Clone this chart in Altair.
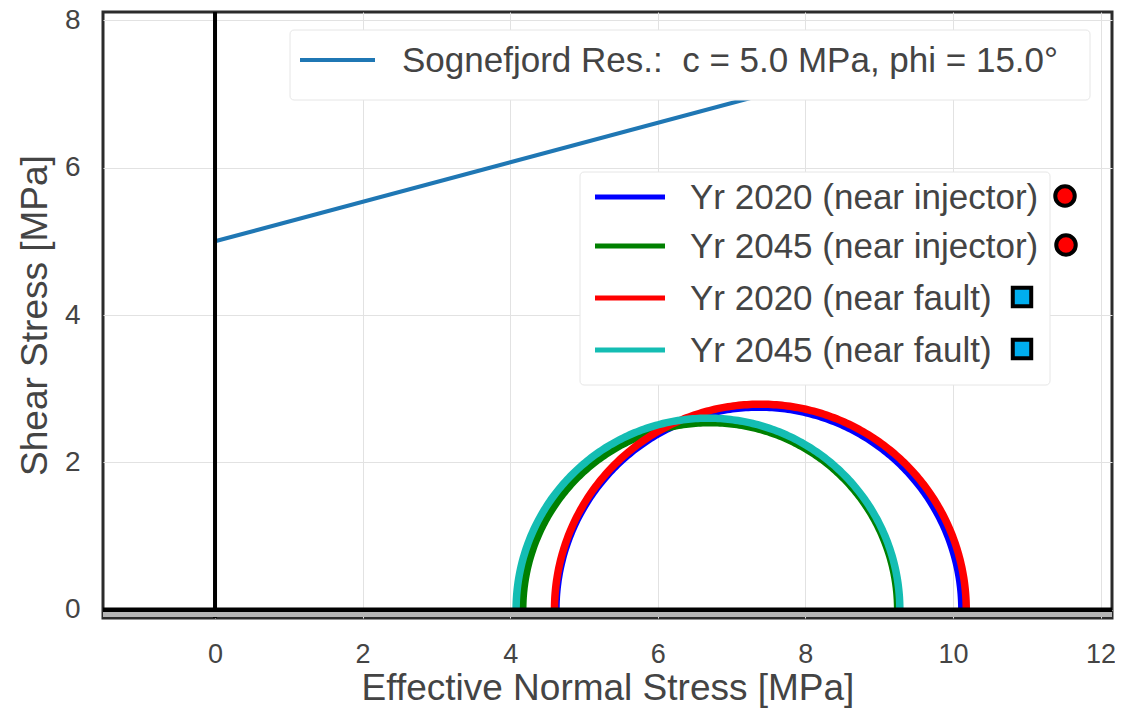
import altair as alt
import numpy as np
import pandas as pd

# ---- data ----
series = ["Yr 2020 (near injector)", "Yr 2045 (near injector)",
          "Yr 2020 (near fault)", "Yr 2045 (near fault)"]
sigma3 = [4.62, 4.17, 4.60, 4.08]      # minimum effective principal stress [MPa]
sigma1 = [10.12, 9.25, 10.18, 9.28]    # maximum effective principal stress [MPa]
colors = ["#0000ff", "#008000", "#ff0000", "#14bdb3"]
marker = ["circle", "circle", "square", "square"]

cohesion = 5.0      # MPa
phi_deg = 15.0      # friction angle
env_sigma = [0.0, 10.0]

x_ticks = [0, 2, 4, 6, 8, 10, 12]
y_ticks = [0, 2, 4, 6, 8]
x_domain = [-1.518, 12.155]
y_domain = [-0.11, 8.11]

FONT = "Liberation Sans"
TXT = "#444444"
W, H = 1009, 606

# ---- derived tables ----
env = pd.DataFrame({"s": env_sigma})
env["t"] = cohesion + env["s"] * np.tan(np.radians(phi_deg))

theta = np.linspace(np.pi, 0, 241)
circles = []
for name, s3, s1 in zip(series, sigma3, sigma1):
    c, r = (s1 + s3) / 2, (s1 - s3) / 2
    circles.append(pd.DataFrame({"s": c + r * np.cos(theta), "t": r * np.sin(theta),
                                 "i": np.arange(len(theta)), "name": name}))

xs = alt.Scale(domain=x_domain, nice=False, zero=False)
ys = alt.Scale(domain=y_domain, nice=False, zero=False)
xax = alt.Axis(values=x_ticks, title="Effective Normal Stress [MPa]", grid=True,
               gridColor="#e2e2e2", gridWidth=1, ticks=False, tickSize=0, domain=False,
               labelFontSize=27, labelColor=TXT, labelFont=FONT, labelPadding=23,
               titleFontSize=37, titleFont=FONT, titleColor=TXT, titleFontWeight="normal",
               titlePadding=3, format="d")
yax = alt.Axis(values=y_ticks, title="Shear Stress [MPa]", grid=True,
               gridColor="#e2e2e2", gridWidth=1, ticks=False, tickSize=0, domain=False,
               labelFontSize=28, labelColor=TXT, labelFont=FONT, labelPadding=23,
               titleFontSize=37, titleFont=FONT, titleColor=TXT, titleFontWeight="normal",
               titlePadding=10, format="d")

layers = []
layers.append(alt.Chart(env).mark_line(color="#1f77b4", strokeWidth=4, clip=True).encode(
    x=alt.X("s:Q", scale=xs, axis=xax), y=alt.Y("t:Q", scale=ys, axis=yax)))

for df, col in zip(circles, colors):
    layers.append(alt.Chart(df).mark_line(color=col, strokeWidth=7.5, clip=True).encode(
        x=alt.X("s:Q", scale=xs), y=alt.Y("t:Q", scale=ys), order="i:Q"))

# axes lines at zero
layers.append(alt.Chart(pd.DataFrame({"v": [0]})).mark_rule(color="black", strokeWidth=4).encode(
    x=alt.X("v:Q", scale=xs)))
layers.append(alt.Chart(pd.DataFrame({"v": [0]})).mark_rule(color="black", strokeWidth=5).encode(
    y=alt.Y("v:Q", scale=ys)))
# grey band along the bottom frame
layers.append(alt.Chart(pd.DataFrame({"v": [0]})).mark_rect(color="#b5b5b5").encode(
    x=alt.value(0), x2=alt.value(W), y=alt.value(H - 6), y2=alt.value(H - 1)))

# ---- legend boxes (guides, positioned in pixels of the plot area) ----
OX, OY = 103, 12
def box(x0, y0, x1, y1):
    return alt.Chart(pd.DataFrame({"v": [0]})).mark_rect(
        fill="white", stroke="#e6e6e6", strokeWidth=1, cornerRadius=4).encode(
        x=alt.value(x0 - OX), x2=alt.value(x1 - OX), y=alt.value(y0 - OY), y2=alt.value(y1 - OY))

def lrule(x0, x1, y, col, w):
    return alt.Chart(pd.DataFrame({"v": [0]})).mark_rule(color=col, strokeWidth=w).encode(
        x=alt.value(x0 - OX), x2=alt.value(x1 - OX), y=alt.value(y - OY))

def ltext(x, y, s):
    return alt.Chart(pd.DataFrame({"v": [0]})).mark_text(
        text=s, align="left", baseline="middle", font=FONT, fontSize=35, color=TXT).encode(
        x=alt.value(x - OX), y=alt.value(y - OY))

env_label = f"Sognefjord Res.:\u00a0 c = {cohesion:.1f} MPa, phi = {phi_deg:.1f}\u00b0"
layers += [box(290, 30, 1090, 100), lrule(300, 375, 60, "#1f77b4", 4), ltext(402, 61, env_label)]

layers.append(box(580, 172, 1050, 385))
rows_y = [197, 246, 298, 350]
mark_x = [1065, 1066, 1022, 1022]
for name, col, yy, mk, mx in zip(series, colors, rows_y, marker, mark_x):
    layers.append(lrule(595, 665, yy, col, 5))
    layers.append(ltext(690, yy + 1, name))
    fill = "#ff0000" if mk == "circle" else "#00aeef"
    size = 380 if mk == "circle" else 340
    layers.append(alt.Chart(pd.DataFrame({"v": [0]})).mark_point(
        shape=mk, filled=True, fill=fill, stroke="black", strokeWidth=4, size=size, opacity=1).encode(
        x=alt.value(mx - OX), y=alt.value(yy - 1 - OY)))

chart = alt.layer(*layers).properties(
    width=W, height=H,
    autosize=alt.AutoSizeParams(type="none"),
    padding={"left": 95, "top": 4, "right": 3, "bottom": 94},
    background="white",
).configure_view(stroke="#2b2b2b", strokeWidth=3)

chart.save("out.html", embed_options={"renderer": "svg", "actions": False})
